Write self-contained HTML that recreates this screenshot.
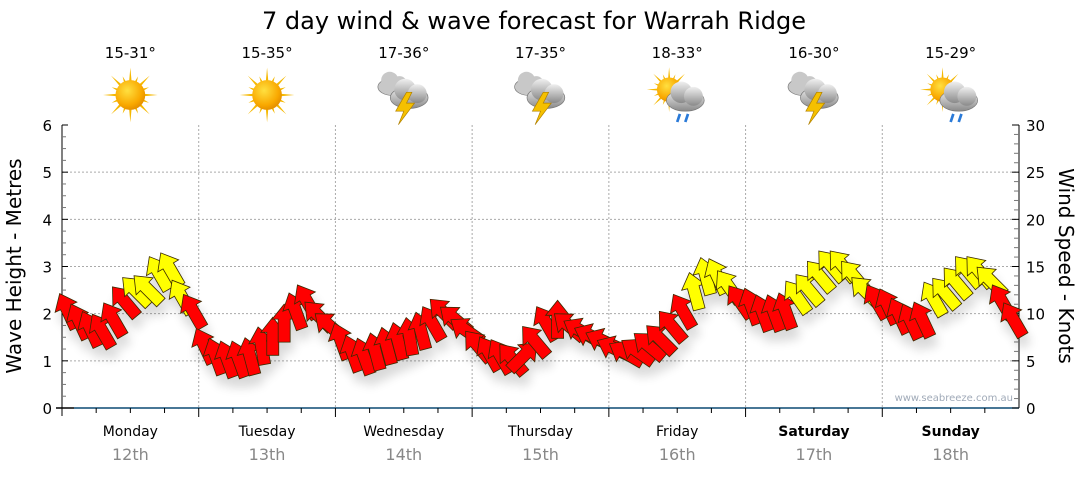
<!DOCTYPE html>
<html><head><meta charset="utf-8"><style>
body{margin:0;background:#fff;font-family:"DejaVu Sans",Verdana,sans-serif}
svg text{font-family:"DejaVu Sans",Verdana,sans-serif}
</style></head><body>
<svg id="c" width="1080" height="475" xmlns="http://www.w3.org/2000/svg">
<defs>
<filter id="sh" x="-50%" y="-50%" width="200%" height="200%"><feGaussianBlur in="SourceAlpha" stdDeviation="5"/><feOffset dx="3" dy="10"/><feComponentTransfer><feFuncA type="linear" slope="0.15"/></feComponentTransfer><feMerge><feMergeNode/><feMergeNode in="SourceGraphic"/></feMerge></filter>
<radialGradient id="sun" cx="40%" cy="35%" r="70%"><stop offset="0" stop-color="#ffe040"/><stop offset="0.7" stop-color="#f9a800"/><stop offset="1" stop-color="#e08a00"/></radialGradient>
<linearGradient id="cloud" x1="0" y1="0" x2="0" y2="1"><stop offset="0" stop-color="#f0f0f0"/><stop offset="1" stop-color="#8a8a8a"/></linearGradient>
</defs>
<text x="534" y="29" font-size="24" text-anchor="middle" fill="#000">7 day wind &amp; wave forecast for Warrah Ridge</text>
<g id="grid"></g><g id="axes"></g><g id="icons"></g><g id="arrows" filter="url(#sh)"></g>
<text x="1013" y="401" font-size="10" text-anchor="end" fill="#a0aab8">www.seabreeze.com.au</text>
<text transform="translate(21,266) rotate(-90)" font-size="20" text-anchor="middle" fill="#000">Wave Height - Metres</text>
<text transform="translate(1059,266) rotate(90)" font-size="20" text-anchor="middle" fill="#000">Wind Speed - Knots</text>
</svg>
<script>
const days=["Monday","Tuesday","Wednesday","Thursday","Friday","Saturday","Sunday"];
const dates=["12th","13th","14th","15th","16th","17th","18th"];
const temps=["15-31°","15-35°","17-36°","17-35°","18-33°","16-30°","15-29°"];
const weather=["sun","sun","storm","storm","showers","storm","showers"];
const waveTicks=[0,1,2,3,4,5,6];
const windTicks=[0,5,10,15,20,25,30];
const windKnots=[10.3,9.2,8.4,8.2,9.4,11.3,12.4,12.6,14.3,14.7,11.8,10.3,
6.6,5.5,5.2,5.2,5.5,6.6,7.6,9.0,10.3,11.3,9.8,8.7,
7.1,5.8,5.5,6.0,6.6,7.1,7.6,8.2,9.0,10.1,9.4,8.2,
6.6,5.8,5.5,5.2,5.5,7.1,9.0,9.4,8.7,8.2,7.6,7.1,
6.3,5.8,6.0,6.6,7.3,8.7,10.3,12.4,14.0,14.0,12.9,11.3,
10.8,10.1,10.1,10.3,11.8,12.6,14.0,15.1,15.1,14.0,12.4,11.3,
10.8,9.8,9.2,9.4,11.6,12.2,13.3,14.5,14.5,13.5,11.3,9.4];
const windDir=[-25,-25,-25,-30,-30,-40,-45,-45,-30,-30,-30,-30,
-25,-20,-20,-20,-15,-10,0,0,-20,-30,-45,-50,
-20,-20,-20,-15,-15,-15,-10,-15,-30,-45,-50,-55,
-40,-30,-30,-40,45,-40,-30,0,-50,-60,-65,-65,
-65,-60,-55,-50,-45,-40,-30,-15,-15,-25,-35,-35,
-20,-20,-20,-20,-35,-40,-40,-40,-40,-40,-45,-30,
-25,-25,-25,-25,-30,-40,-40,-40,-40,-45,-30,-30];
const NS="http://www.w3.org/2000/svg";
const X0=62,X1=1019,Y0=408,Y1=125,PER_DAY=12;
const dayW=(X1-X0)/7;
const xT=t=>X0+t*dayW;
const yWave=m=>Y0-(m/6)*(Y0-Y1);
const yWind=k=>Y0-(k/30)*(Y0-Y1);
function mk(tag,attrs,parent){const e=document.createElementNS(NS,tag);for(const k in attrs)e.setAttribute(k,attrs[k]);parent.appendChild(e);return e;}
const grid=document.getElementById('grid'),axes=document.getElementById('axes'),icons=document.getElementById('icons'),arrows=document.getElementById('arrows');
waveTicks.forEach(v=>{if(v>0&&v<6){const l=mk('line',{x1:X0,x2:X1,y1:yWave(v),y2:yWave(v),stroke:'#aaa','stroke-dasharray':'2,2'},grid);

}});
for(let d=1;d<7;d++){const l=mk('line',{x1:xT(d),x2:xT(d),y1:Y1,y2:Y0,stroke:'#aaa','stroke-dasharray':'2,2'},grid);

}
mk('line',{x1:X0,x2:X0,y1:Y1,y2:Y0+8,stroke:'#000'},axes);
mk('line',{x1:X1,x2:X1,y1:Y1,y2:Y0,stroke:'#000'},axes);
mk('line',{x1:X0-6,x2:X0+12,y1:Y0,y2:Y0,stroke:'#000','stroke-width':1.5},axes);
mk('line',{x1:X0+12,x2:X1,y1:Y0,y2:Y0,stroke:'#0b4a73','stroke-width':1.5},axes);
for(let i=0;i<=24;i++){const y=yWave(i/4);mk('line',{x1:X0,x2:X0+(i%4?4:6),y1:y,y2:y,stroke:i%4?'#777':'#000'},axes);}
for(let i=0;i<=30;i++){const y=yWind(i);mk('line',{x1:X1,x2:X1-(i%5?5:7),y1:y,y2:y,stroke:i%5?'#777':'#000'},axes);}
waveTicks.forEach(v=>{const t=mk('text',{x:X0-10,y:yWave(v)+6,'font-size':15,'text-anchor':'end',fill:'#000'},axes);t.textContent=v;

});
windTicks.forEach(v=>{const t=mk('text',{x:X1+7,y:yWind(v)+6,'font-size':15,fill:'#000'},axes);t.textContent=v;

});
for(let q=1;q<28;q++){const x=xT(q/4);mk('line',{x1:x,x2:x,y1:Y0,y2:Y0+(q%4?5:9),stroke:'#000'},axes);}
days.forEach((d,i)=>{const cx=xT(i+0.5);const bold=i>=5;
const t=mk('text',{x:cx,y:436,'font-size':14,'text-anchor':'middle',fill:'#000','font-weight':bold?'bold':'normal'},axes);t.textContent=d;


const t2=mk('text',{x:cx,y:460,'font-size':16,'text-anchor':'middle',fill:'#888'},axes);t2.textContent=dates[i];


const t3=mk('text',{x:cx,y:58,'font-size':15,'text-anchor':'middle',fill:'#000'},icons);t3.textContent=temps[i];


const g=mk('g',{transform:`translate(${cx},${95}) scale(1.35)`},icons);


const w=weather[i];
function sun(s,ox,oy){for(let r=0;r<16;r++){const a=r*Math.PI/8,L=(r%2?0.85:1.15)*s*1.6;mk('polygon',{points:`${ox+Math.cos(a+0.12)*s*0.8},${oy+Math.sin(a+0.12)*s*0.8} ${ox+Math.cos(a)*L},${oy+Math.sin(a)*L} ${ox+Math.cos(a-0.12)*s*0.8},${oy+Math.sin(a-0.12)*s*0.8}`,fill:'#f5b800'},g);}
mk('circle',{cx:ox,cy:oy,r:s,fill:'url(#sun)'},g);}
function cloud(ox,oy,s,f){mk('ellipse',{cx:ox,cy:oy,rx:14*s,ry:8*s,fill:f,stroke:'#777','stroke-width':0.5},g);mk('circle',{cx:ox-3*s,cy:oy-6*s,r:8*s,fill:f},g);mk('circle',{cx:ox+6*s,cy:oy-3*s,r:7*s,fill:f},g);}
if(w==='sun'){sun(11,0,0);}
else if(w==='storm'){cloud(-8,-6,0.8,'#c8c8c8');cloud(4,2,1,'url(#cloud)');mk('polygon',{points:'2,-2 -6,12 0,12 -4,22 8,6 2,6 6,-2',fill:'#f5c000',stroke:'#b08000','stroke-width':0.5},g);}
else{sun(9,-6,-4);cloud(6,4,1,'url(#cloud)');mk('path',{d:'M2 14 l-2 6 M8 14 l-2 6',stroke:'#2a7ad8','stroke-width':2},g);}
});
windKnots.forEach((k,i)=>{const x=xT((i+0.5)/PER_DAY),y=yWind(k);
const col=k>=11.5?'#ffff00':'#ff0000';
const p=mk('polygon',{points:'-6,19 -6,-4 -12,-4 0,-19 12,-4 6,-4 6,19',fill:col,stroke:'#3a2a00','stroke-width':0.8,transform:`translate(${x},${y}) rotate(${windDir[i]})`},arrows);

});
</script>
</body></html>
